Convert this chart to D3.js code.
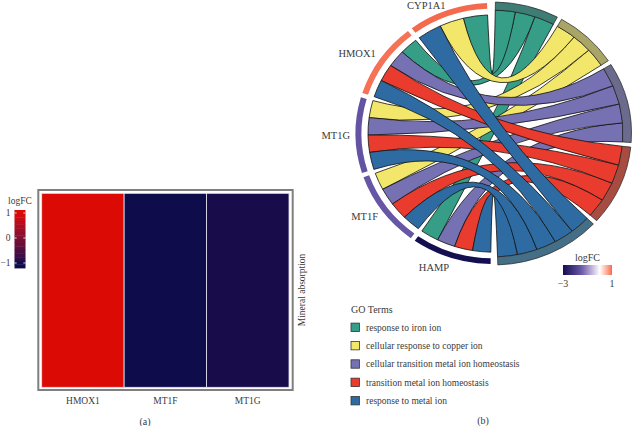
<!DOCTYPE html>
<html><head><meta charset="utf-8">
<script src="https://cdn.jsdelivr.net/npm/d3@7"></script>
<style>
body{margin:0;background:#fff}
svg{display:block}
text{font-family:"Liberation Serif","DejaVu Serif",serif;fill:#3a3a3a}
</style>
</head><body>
<svg id="c" width="635" height="426"></svg>
<script>
// ---------- Panel (a): heatmap data ----------
const heatGenes = ["HMOX1", "MT1F", "MT1G"];
const heatLogFC = [1.0, -1.0, -0.95];
const heatPathway = "Mineral absorption";
const heatLegendTicks = [1, 0, -1];

// ---------- Panel (b): GO chord data ----------
const chordGenes = ["HAMP", "MT1F", "MT1G", "HMOX1", "CYP1A1"];   // clockwise from bottom
const chordGeneLogFC = [-3.0, -1.55, -1.6, 0.95, 1.0];
const goTerms = ["response to iron ion", "cellular response to copper ion",
  "cellular transition metal ion homeostasis", "transition metal ion homeostasis",
  "response to metal ion"];
const termColors = ["#369d86", "#f2e76a", "#7671b3", "#ea3b2f", "#2d6ba2"];
const termRingColors = ["#3e7d74", "#a9a566", "#6b6b8e", "#a84b40", "#456f86"];
// rows: chordGenes, cols: goTerms
const linkMatrix = [
  [1, 0, 1, 1, 1],
  [0, 1, 1, 1, 1],
  [0, 1, 1, 1, 1],
  [1, 0, 1, 1, 1],
  [1, 1, 0, 0, 1]
];
const chordLegendTicks = [-3, 1];

const svg = d3.select("#c");

// ================= Panel (a) =================
const heatColor = d3.scaleLinear().domain([-1, 1]).range(["#0f0c4c", "#dc0a05"]).interpolate(d3.interpolateLab).clamp(true);
const hx = d3.scaleBand().domain(heatGenes).range([41.7, 289]);
const hy0 = 193.3, hy1 = 387.3;

svg.append("rect").attr("x", 38.3).attr("y", 190).attr("width", 292.7 - 38.3).attr("height", 200)
  .attr("fill", "none").attr("stroke", "#7f7f7f").attr("stroke-width", 2);

svg.append("g").selectAll("rect").data(heatGenes).join("rect")
  .attr("x", d => hx(d)).attr("y", hy0).attr("width", hx.bandwidth()).attr("height", hy1 - hy0)
  .attr("fill", (d, i) => heatColor(heatLogFC[i]))
  .attr("stroke", "#e6e4f0").attr("stroke-width", 0.8);

svg.append("g").selectAll("text").data(heatGenes).join("text")
  .attr("x", d => hx(d) + hx.bandwidth() / 2).attr("y", 403.5)
  .attr("text-anchor", "middle").attr("font-size", 9.5).text(d => d);

svg.append("text").attr("transform", "translate(304.5,290) rotate(-90)")
  .attr("text-anchor", "middle").attr("font-size", 9.5).text(heatPathway);

// heat legend
const ly = d3.scaleLinear().domain([-1, 1]).range([263, 213]);
svg.append("text").attr("x", 20).attr("y", 203.5).attr("text-anchor", "middle").attr("font-size", 9.5).text("logFC");
const nb = 16, lv0 = -1.2, lv1 = 1.12;
const bands = d3.range(nb).map(i => lv0 + (i + 0.5) * (lv1 - lv0) / nb);
svg.append("g").selectAll("rect").data(bands).join("rect")
  .attr("x", 14.5).attr("width", 11)
  .attr("y", d => ly(d + (lv1 - lv0) / nb / 2))
  .attr("height", Math.abs(ly(0) - ly((lv1 - lv0) / nb)) + 0.4)
  .attr("fill", d => heatColor(d));
const tg = svg.append("g");
heatLegendTicks.forEach(t => {
  tg.append("line").attr("x1", 14.5).attr("x2", 16.7).attr("y1", ly(t)).attr("y2", ly(t)).attr("stroke", "#fff").attr("stroke-width", 0.8);
  tg.append("line").attr("x1", 23.3).attr("x2", 25.5).attr("y1", ly(t)).attr("y2", ly(t)).attr("stroke", "#fff").attr("stroke-width", 0.8);
  tg.append("text").attr("x", 10.5).attr("y", ly(t) + 3.3).attr("text-anchor", "end").attr("font-size", 9.5)
    .text(t < 0 ? "\u2212" + Math.abs(t) : t);
});

svg.append("text").attr("x", 145).attr("y", 424.5).attr("text-anchor", "middle").attr("font-size", 10).text("(a)");

// ================= Panel (b) =================
const cx = 493, cy = 133.5, rxOut = 138, yScale = 131 / 138;
const deg = d3.scaleLinear().domain([0, 360]).range([0, 2 * Math.PI]);
const lfcColor = d3.scaleLinear().domain([-3, -1.5, 0, 1])
  .range(["#130f50", "#6a58a8", "#ffffff", "#f36a4f"]).interpolate(d3.interpolateLab).clamp(true);

const R = { geneIn: 131.5, geneOut: 137.5, geneChord: 125, termIn: 130, termOut: 138.5, termChord: 130 };

const nG = chordGenes.length, nT = goTerms.length;
const geneStart = 181, geneEnd = 357.5, gGap = 2;
const gw = (geneEnd - geneStart - gGap * (nG - 1)) / nG;
const termStart = 1, termEnd = 178, tGap = 2;
const termCounts = goTerms.map((t, j) => d3.sum(linkMatrix, row => row[j]));
const totalLinks = d3.sum(termCounts);
const unit = (termEnd - termStart - tGap * (nT - 1)) / totalLinks;
const termStarts = termCounts.map((c, j) => termStart + d3.sum(termCounts.slice(0, j)) * unit + j * tGap);

// gene-side slots
const geneSlot = {};
chordGenes.forEach((g, i) => {
  const s = geneStart + i * (gw + gGap);
  const ts = goTerms.map((t, j) => j).filter(j => linkMatrix[i][j]).sort((a, b) => b - a);
  const w = gw / ts.length;
  ts.forEach((j, k) => geneSlot[i + "-" + j] = [s + k * w, s + (k + 1) * w]);
});
const termSlot = {};
goTerms.forEach((t, j) => {
  const gs = chordGenes.map((g, i) => i).filter(i => linkMatrix[i][j]).sort((a, b) => b - a);
  gs.forEach((i, k) => termSlot[i + "-" + j] = [termStarts[j] + k * unit, termStarts[j] + (k + 1) * unit]);
});

const links = [];
goTerms.forEach((t, j) => chordGenes.forEach((g, i) => {
  if (linkMatrix[i][j]) {
    const gsl = geneSlot[i + "-" + j], tsl = termSlot[i + "-" + j];
    links.push({
      term: j,
      source: { startAngle: deg(gsl[0]), endAngle: deg(gsl[1]), radius: R.geneChord },
      target: { startAngle: deg(tsl[0]), endAngle: deg(tsl[1]), radius: R.termChord }
    });
  }
}));

const cg = svg.append("g").attr("transform", `translate(${cx},${cy}) scale(1,${yScale})`);
const ribbon = d3.ribbon();
cg.append("g").selectAll("path").data(links).join("path")
  .attr("d", ribbon).attr("fill", d => termColors[d.term])
  .attr("stroke", "#111").attr("stroke-width", 0.8).attr("vector-effect", "non-scaling-stroke");

const arc = d3.arc();
cg.append("g").selectAll("path").data(goTerms).join("path")
  .attr("d", (t, j) => arc({ innerRadius: R.termIn, outerRadius: R.termOut, startAngle: deg(termStarts[j]), endAngle: deg(termStarts[j] + termCounts[j] * unit) }))
  .attr("fill", (t, j) => termRingColors[j]).attr("stroke", "#222").attr("stroke-width", 0.7).attr("vector-effect", "non-scaling-stroke");

cg.append("g").selectAll("path").data(chordGenes).join("path")
  .attr("d", (g, i) => arc({ innerRadius: R.geneIn, outerRadius: R.geneOut, startAngle: deg(geneStart + i * (gw + gGap)), endAngle: deg(geneStart + i * (gw + gGap) + gw) }))
  .attr("fill", (g, i) => lfcColor(chordGeneLogFC[i]));

// gene labels
svg.append("g").selectAll("text").data(chordGenes).join("text")
  .attr("x", (g, i) => cx + 143 * Math.sin(deg(geneStart + i * (gw + gGap) + gw / 2)))
  .attr("y", (g, i) => Math.max(8.5, cy - 140 * Math.cos(deg(geneStart + i * (gw + gGap) + gw / 2)) + 3.8))
  .attr("text-anchor", "end").attr("font-size", 10.5).text(d => d);

// logFC legend (b)
const lx = d3.scaleLinear().domain([-3, 1]).range([563, 612]);
const grad = svg.append("defs").append("linearGradient").attr("id", "lfcg");
d3.range(0, 1.0001, 0.05).forEach(p => grad.append("stop").attr("offset", p).attr("stop-color", lfcColor(-3 + 4 * p)));
svg.append("text").attr("x", 587.5).attr("y", 260.5).attr("text-anchor", "middle").attr("font-size", 10).text("logFC");
svg.append("rect").attr("x", lx(-3)).attr("y", 265).attr("width", lx(1) - lx(-3)).attr("height", 10).attr("fill", "url(#lfcg)");
chordLegendTicks.forEach(t => svg.append("text").attr("x", lx(t)).attr("y", 286.5).attr("text-anchor", "middle").attr("font-size", 10)
  .text(t < 0 ? "\u2212" + Math.abs(t) : t));

// GO Terms legend
svg.append("text").attr("x", 351).attr("y", 312.5).attr("font-size", 10).text("GO Terms");
const leg = svg.append("g").selectAll("g").data(goTerms).join("g")
  .attr("transform", (t, j) => `translate(351,${327.3 + j * 18.35})`);
leg.append("rect").attr("x", 0).attr("y", -4.2).attr("width", 8.4).attr("height", 8.4)
  .attr("fill", (t, j) => termColors[j]).attr("stroke", "#333").attr("stroke-width", 0.8);
leg.append("text").attr("x", 15).attr("y", 3.3).attr("font-size", 9.5).text(d => d);

svg.append("text").attr("x", 483).attr("y", 423.5).attr("text-anchor", "middle").attr("font-size", 10).text("(b)");
</script>
</body></html>
